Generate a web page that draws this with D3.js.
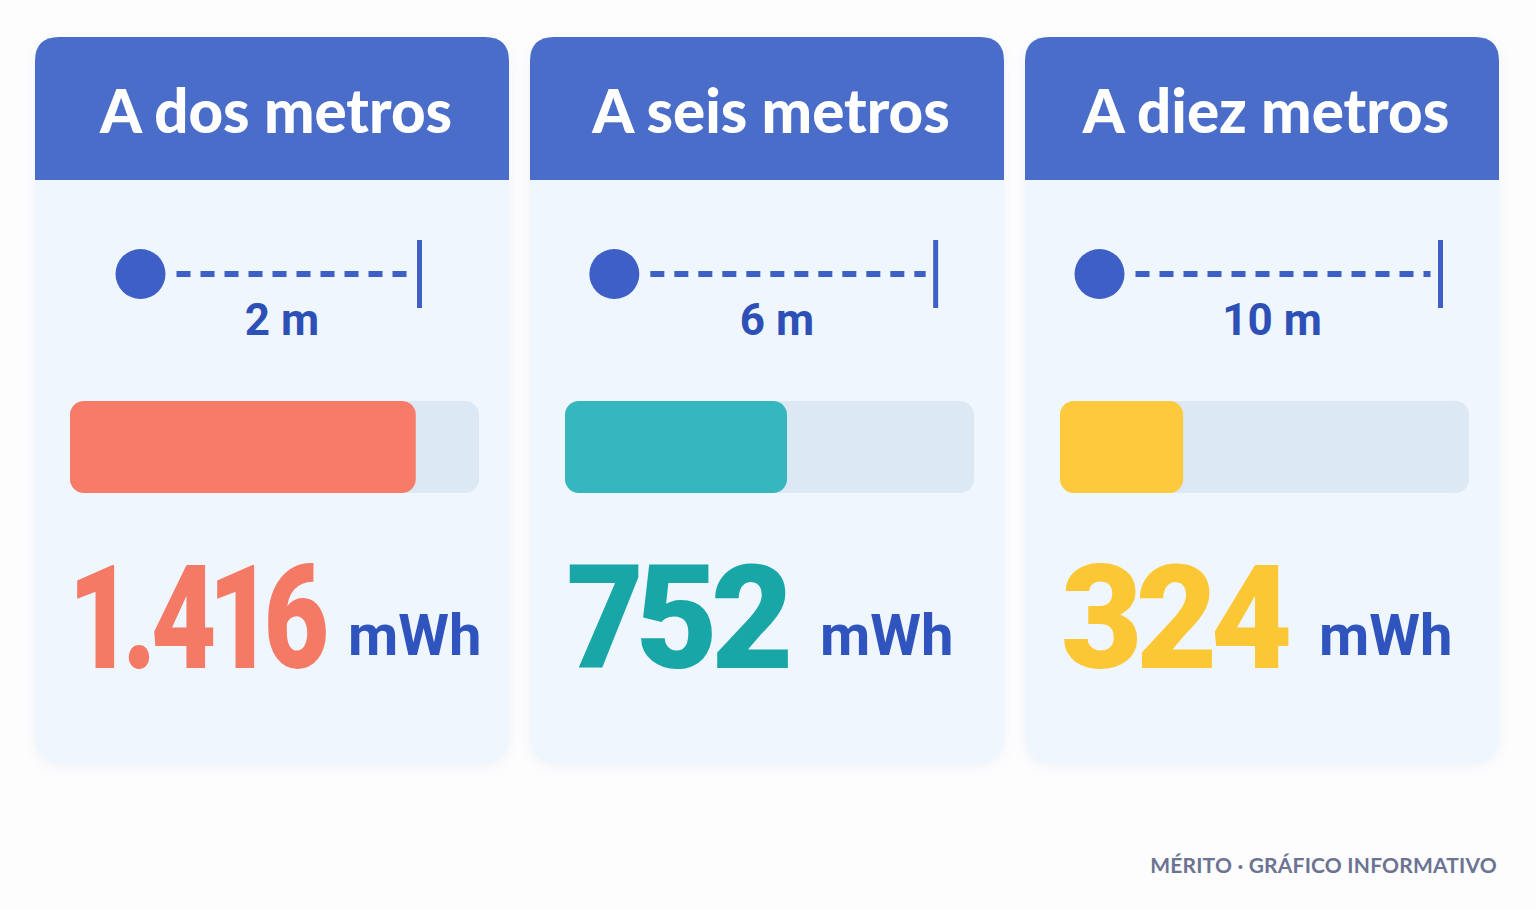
<!DOCTYPE html>
<html><head><meta charset="utf-8">
<script src="https://cdn.jsdelivr.net/npm/d3@7/dist/d3.min.js"></script>
<style>html,body{margin:0;padding:0;background:#fdfdfe;}svg{display:block;}
.val{font-feature-settings:"pnum" 1;font-variant-numeric:proportional-nums;}</style>
</head><body>
<svg id="chart" width="1536" height="909"></svg>
<script>
const titles = ["A dos metros", "A seis metros", "A diez metros"];
const distances = [2, 6, 10];
const distanceLabels = ["2 m", "6 m", "10 m"];
const values = [1416, 752, 324];
const valueLabels = ["1.416", "752", "324"];
const unit = "mWh";
const barColors = ["#f77b68", "#36b7bf", "#fdca3e"];
const textColors = ["#f47a66", "#19a6a6", "#fcc734"];
const footer = "MÉRITO · GRÁFICO INFORMATIVO";

const svg = d3.select("#chart");
const cardW = 474, cardTop = 37, cardH = 726, headH = 143, gap = 21, r = 24;
const x0 = d3.scaleBand().domain(d3.range(3)).range([35, 35 + 3 * cardW + 2 * gap]).paddingInner(gap / (cardW + gap)).paddingOuter(0);

const defs = svg.append("defs");
const f = defs.append("filter").attr("id", "sh").attr("x", "-10%").attr("y", "-10%").attr("width", "120%").attr("height", "120%");
f.append("feDropShadow").attr("dx", 0).attr("dy", 3).attr("stdDeviation", 6).attr("flood-color", "#8fa3c8").attr("flood-opacity", 0.12);

const trackW = 409;
const barScale = d3.scalePow().exponent(0.7).domain([0, 1800]).range([0, trackW]);
const lenScale = d3.scaleLog().domain([2, 10]).range([279, 341]);

function topRounded(x, y, w, h, rr) {
  return `M${x},${y + h}V${y + rr}Q${x},${y} ${x + rr},${y}H${x + w - rr}Q${x + w},${y} ${x + w},${y + rr}V${y + h}Z`;
}

const cards = svg.selectAll("g.card").data(d3.range(3)).join("g")
  .attr("class", "card")
  .attr("transform", i => `translate(${x0(i)},${cardTop})`);

cards.append("rect").attr("width", cardW).attr("height", cardH).attr("rx", r)
  .attr("fill", "#f0f6fd").attr("filter", "url(#sh)");
cards.append("path").attr("d", topRounded(0, 0, cardW, headH, r)).attr("fill", "#4a6dca");
cards.append("text").attr("x", cardW / 2 + 4).attr("y", 96)
  .attr("text-anchor", "middle").attr("fill", "#ffffff")
  .attr("font-family", "Lato, 'Open Sans', sans-serif").attr("font-weight", 900).attr("font-size", 60)
  .text(i => titles[i]);

cards.each(function (i) {
  const g = d3.select(this);
  const len = lenScale(distances[i]);
  const cx = cardW / 2 + 8;
  const a = cx - len / 2, b = cx + len / 2;
  const yL = 237;
  g.append("line").attr("x1", a + 36).attr("x2", b - 10).attr("y1", yL).attr("y2", yL)
    .attr("stroke", "#3d5fc6").attr("stroke-width", 6).attr("stroke-dasharray", "14 10");
  g.append("circle").attr("cx", a).attr("cy", yL).attr("r", 25).attr("fill", "#3d5fc6");
  g.append("line").attr("x1", b).attr("x2", b).attr("y1", yL - 34).attr("y2", yL + 34)
    .attr("stroke", "#3d5fc6").attr("stroke-width", 5);
  g.append("text").attr("x", cx + 2).attr("y", 298).attr("text-anchor", "middle")
    .attr("fill", "#2d50b6").attr("font-family", "Roboto, sans-serif").attr("font-weight", 700)
    .attr("font-size", 44).text(distanceLabels[i]);

  const bx = 35, by = 364, bh = 92;
  g.append("rect").attr("x", bx).attr("y", by).attr("width", trackW).attr("height", bh)
    .attr("rx", 14).attr("fill", "#dde8f5");
  g.append("rect").attr("x", bx).attr("y", by).attr("width", barScale(values[i])).attr("height", bh)
    .attr("rx", 14).attr("fill", barColors[i]);

  const vt = g.append("text").attr("class", "val").attr("x", 0).attr("y", 0)
    .attr("fill", textColors[i]).attr("font-family", "Roboto, sans-serif").attr("font-weight", 900)
    .attr("font-size", 144).attr("letter-spacing", -7).text(valueLabels[i]);
  const bb = vt.node().getBBox();
  const target = [255, 222, 228][i];
  const k = Math.min(1, target / bb.width);
  vt.attr("transform", `translate(36,631) scale(${k},1)`);
  const vw = bb.width * k;
  g.append("text").attr("x", 36 + vw + [22, 32, 30][i]).attr("y", 618)
    .attr("fill", "#2f54bd").attr("font-family", "Roboto, sans-serif").attr("font-weight", 700)
    .attr("font-size", 58).text(unit);
});

svg.append("text").attr("x", 1497).attr("y", 873).attr("text-anchor", "end")
  .attr("fill", "#6c7393").attr("font-family", "Lato, sans-serif").attr("font-weight", 700)
  .attr("font-size", 21).attr("letter-spacing", 0.2).text(footer);
</script>
</body></html>
